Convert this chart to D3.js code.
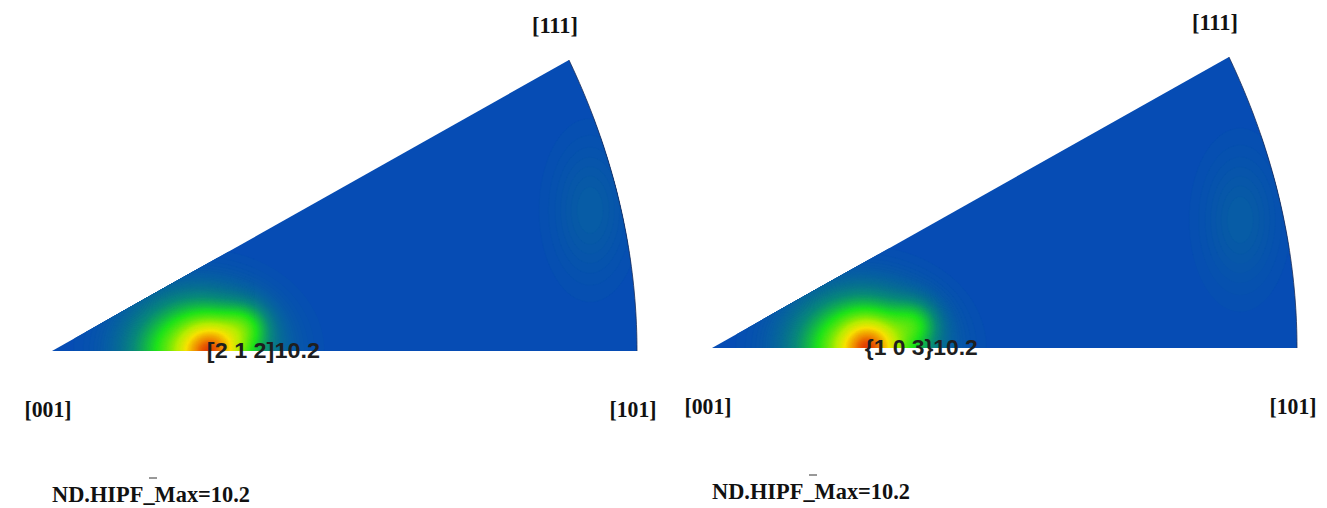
<!DOCTYPE html>
<html>
<head>
<meta charset="utf-8">
<script src="https://cdn.jsdelivr.net/npm/d3@7"></script>
<style>
  html, body { margin: 0; padding: 0; background: #fff; }
  svg { display: block; }
</style>
</head>
<body>
<svg id="chart" width="1327" height="508"></svg>
<script>
// ---------------- data ----------------
const directionLabels = ["[001]", "[101]", "[111]"];
const directionVectors = [[0, 0, 1], [1, 0, 1], [1, 1, 1]];
const panelTitles = ["ND.HIPF_Max=10.2", "ND.HIPF_Max=10.2"];
const peakLabels = ["[2 1 2]10.2", "{1 0 3}10.2"];
const maxValues = [10.2, 10.2];
// density components, in stereographic coordinates:
// [x, y, amplitude, sigmaX, sigmaY]
const densityLeft = [
  [0.1125, 0.000, 4.6, 0.0130, 0.0230],
  [0.1040, 0.000, 5.4, 0.0290, 0.0420],
  [0.1367, 0.031, 1.8, 0.0110, 0.0190],
  [0.3810, 0.177, 0.4, 0.0177, 0.0566]
];
const densityRight = [
  [0.1110, 0.000, 4.6, 0.0130, 0.0230],
  [0.1055, 0.000, 5.4, 0.0290, 0.0420],
  [0.1437, 0.031, 1.8, 0.0110, 0.0190],
  [0.3740, 0.161, 0.4, 0.0177, 0.0566]
];
const colorStops = [0, 1.5, 3.2, 5.5, 7.0, 8.8, 10.2];
const colorValues = ["#064cb4", "#0a8a7a", "#20e41c", "#b8ee00", "#f8e400", "#f08a00", "#e02a00"];

// ---------------- layout ----------------
const panels = [
  { ox: 52, oy: 351, density: densityLeft },
  { ox: 712, oy: 348, density: densityRight }
];
const W = 585, H = 291;

const svg = d3.select("#chart");
const color = d3.scaleLinear().domain(colorStops).range(colorValues).clamp(true);

function stereo(v) {
  const n = Math.hypot(v[0], v[1], v[2]);
  const x = v[0] / n, y = v[1] / n, z = v[2] / n;
  return [x / (1 + z), y / (1 + z)];
}
const P001 = stereo(directionVectors[0]);
const P101 = stereo(directionVectors[1]);
const P111 = stereo(directionVectors[2]);

panels.forEach((p, k) => {
  const x = d3.scaleLinear().domain([P001[0], P101[0]]).range([p.ox, p.ox + W]);
  const y = d3.scaleLinear().domain([0, P111[1]]).range([p.oy, p.oy - H]);
  const g = svg.append("g");

  // triangle boundary: [001] -> [111] -> great circle arc -> [101] -> [001]
  const arcPts = d3.range(1, -0.0001, -0.02).map(s => stereo([1, Math.max(s, 0), 1]));
  const boundary = [P001].concat(arcPts).concat([P001]);
  const line = d3.line().x(d => x(d[0])).y(d => y(d[1]));

  const clipId = "clip" + k;
  svg.append("clipPath").attr("id", clipId)
    .append("path").attr("d", line(boundary));

  g.append("path").attr("d", line(boundary)).attr("fill", color(0));

  // density field
  const step = 2;
  const top = p.oy - H - 4;
  const nx = Math.ceil((W + 8) / step), ny = Math.ceil((H + 10) / step);
  const left = p.ox - 4;
  const values = new Float64Array(nx * ny);
  for (let j = 0; j < ny; j++) {
    const dy = y.invert(top + (j + 0.5) * step);
    for (let i = 0; i < nx; i++) {
      const dx = x.invert(left + (i + 0.5) * step);
      let v = 0;
      for (const c of p.density) {
        const a = (dx - c[0]) / c[3], b = (dy - c[1]) / c[4];
        v += c[2] * Math.exp(-0.5 * (a * a + b * b));
      }
      values[j * nx + i] = Math.min(v, maxValues[k]);
    }
  }
  const thresholds = d3.range(0.05, maxValues[k], 0.05);
  const contours = d3.contours().size([nx, ny]).thresholds(thresholds)(values);
  const path = d3.geoPath(d3.geoTransform({
    point(px, py) { this.stream.point(left + px * step, top + py * step); }
  }));
  const dens = g.append("g").attr("clip-path", `url(#${clipId})`);
  dens.selectAll("path").data(contours).join("path")
    .attr("d", path)
    .attr("fill", d => color(d.value + 0.025))
    .attr("stroke", d => color(d.value + 0.025))
    .attr("stroke-width", 0.3);

  // thin dark rim on the arc
  g.append("path").attr("d", line(arcPts)).attr("fill", "none")
    .attr("stroke", "#1c2f5a").attr("stroke-width", 0.8);

  // corner labels
  const lab = g.append("g").attr("font-family", "'Liberation Serif', 'Times New Roman', serif")
    .attr("font-weight", "bold").attr("font-size", 23).attr("fill", "#111")
    .attr("text-anchor", "middle");
  lab.append("text").attr("x", x(P001[0]) - 4).attr("y", p.oy + 66)
    .attr("textLength", 47).attr("lengthAdjust", "spacingAndGlyphs").text(directionLabels[0]);
  lab.append("text").attr("x", x(P101[0]) - 4).attr("y", p.oy + 66)
    .attr("textLength", 47).attr("lengthAdjust", "spacingAndGlyphs").text(directionLabels[1]);
  lab.append("text").attr("x", x(P111[0]) - 14).attr("y", y(P111[1]) - 27)
    .attr("textLength", 46).attr("lengthAdjust", "spacingAndGlyphs").text(directionLabels[2]);

  // peak label at the density maximum
  const peak = p.density[0];
  g.append("text")
    .attr("x", x(peak[0]) - 4).attr("y", y(peak[1]) + 7)
    .attr("font-family", "'Liberation Sans', Arial, sans-serif")
    .attr("font-weight", "bold").attr("font-size", 22).attr("fill", "#1e1e1e")
    .attr("textLength", 113).attr("lengthAdjust", "spacingAndGlyphs")
    .text(peakLabels[k]);

  // title
  const tx = x(P001[0]), ty = p.oy + 151;
  g.append("text").attr("x", tx).attr("y", ty)
    .attr("font-family", "'Liberation Serif', 'Times New Roman', serif")
    .attr("font-weight", "bold").attr("font-size", 23).attr("fill", "#111")
    .attr("textLength", 198).attr("lengthAdjust", "spacingAndGlyphs")
    .text(panelTitles[k]);
  g.append("line").attr("x1", tx + 97).attr("x2", tx + 105)
    .attr("y1", ty - 24).attr("y2", ty - 24)
    .attr("stroke", "#333").attr("stroke-width", 1);
});
</script>
</body>
</html>
